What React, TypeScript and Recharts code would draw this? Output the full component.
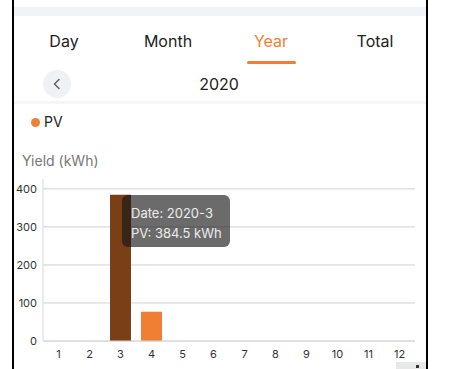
import React from 'react';
import { BarChart, Bar, Cell, XAxis, YAxis, CartesianGrid, Tooltip } from 'recharts';

const months = ['1', '2', '3', '4', '5', '6', '7', '8', '9', '10', '11', '12'];
const pvYield = [0, 0, 384.5, 77, 0, 0, 0, 0, 0, 0, 0, 0];
const yTicks = [0, 100, 200, 300, 400];
const tabs = ['Day', 'Month', 'Year', 'Total'];
const year = '2020';
const activeIndex = 2;

const ORANGE = '#f07f34';
const DARK = '#7b3f17';
const FONT = 'Inter, "Noto Sans", sans-serif';

const data = months.map((m, i) => ({ month: m, pv: pvYield[i] }));

function TipContent({ active, payload }: any) {
  if (!active || !payload?.length) return null;
  const d = payload[0].payload;
  return (
    <div
      style={{
        width: 108,
        height: 52,
        boxSizing: 'border-box',
        padding: '8px 0 0 9px',
        borderRadius: 6,
        background: 'rgba(20,20,20,0.63)',
        color: '#ececec',
        fontSize: 13,
        lineHeight: '20px',
        fontFamily: FONT,
        whiteSpace: 'nowrap',
      }}
    >
      <div>Date: {year}-{d.month}</div>
      <div>PV: {d.pv} kWh</div>
    </div>
  );
}

const tabCenters = [64, 168, 271, 375];

export default function App() {
  return (
    <div
      style={{
        position: 'absolute',
        left: 0,
        top: 0,
        width: 456,
        height: 369,
        overflow: 'hidden',
        background: '#fff',
        fontFamily: FONT,
        color: '#222',
      }}
    >
      {/* frame */}
      <div style={{ position: 'absolute', left: 12, top: 0, width: 2, height: 369, background: '#000' }} />
      <div style={{ position: 'absolute', left: 426, top: 0, width: 2, height: 369, background: '#000' }} />
      <div style={{ position: 'absolute', left: 14, top: 7, width: 412, height: 9, background: '#f2f3f6' }} />

      {tabs.map((t, i) => (
        <div
          key={t}
          style={{
            position: 'absolute',
            left: tabCenters[i] - 40,
            width: 80,
            top: 31,
            textAlign: 'center',
            fontSize: 16,
            lineHeight: '20px',
            color: t === 'Year' ? ORANGE : '#222',
          }}
        >
          {t}
        </div>
      ))}
      <div style={{ position: 'absolute', left: 247, top: 61, width: 49, height: 3, borderRadius: 2, background: ORANGE }} />

      {/* year selector */}
      <div
        style={{
          position: 'absolute',
          left: 43,
          top: 70,
          width: 28,
          height: 28,
          borderRadius: 14,
          background: '#f0f1f4',
        }}
      >
        <svg width={28} height={28}>
          <polyline points="16,9.5 11.5,14 16,18.5" fill="none" stroke="#666" strokeWidth={1.6} strokeLinecap="round" strokeLinejoin="round" />
        </svg>
      </div>
      <div style={{ position: 'absolute', left: 169, width: 100, top: 74, textAlign: 'center', fontSize: 16, lineHeight: '20px' }}>
        {year}
      </div>
      <div style={{ position: 'absolute', left: 14, top: 101, width: 412, height: 3, background: '#f6f6f8' }} />

      {/* legend */}
      <div style={{ position: 'absolute', left: 30.5, top: 117.5, width: 9, height: 9, borderRadius: 5, background: ORANGE }} />
      <div style={{ position: 'absolute', left: 44, top: 113, fontSize: 14, lineHeight: '18px', color: '#222' }}>PV</div>

      <div style={{ position: 'absolute', left: 22, top: 152, fontSize: 14, lineHeight: '18px', color: '#777' }}>
        Yield (kWh)
      </div>

      <div style={{ position: 'absolute', left: 0, top: 170 }}>
        <BarChart
          width={456}
          height={199}
          data={data}
          margin={{ top: 9, right: 41, bottom: 6, left: 0 }}
          style={{ fontFamily: FONT }}
        >
          <CartesianGrid vertical={false} stroke="#d0d0d0" syncWithTicks />
          <XAxis
            dataKey="month"
            height={22}
            tickLine={false}
            tickSize={0}
            tickMargin={9}
            axisLine={{ stroke: '#d8d8d8' }}
            tick={{ fill: '#333', fontSize: 11 }}
            interval={0}
          />
          <YAxis
            width={43}
            domain={[0, 426]}
            ticks={yTicks}
            tickLine={false}
            tickSize={0}
            tickMargin={6}
            axisLine={{ stroke: '#d8d8d8' }}
            tick={{ fill: '#333', fontSize: 11 }}
          />
          <Tooltip
            active
            defaultIndex={activeIndex}
            cursor={false}
            position={{ x: 122, y: 25 }}
            isAnimationActive={false}
            wrapperStyle={{ outline: 'none' }}
            content={<TipContent />}
          />
          <Bar dataKey="pv" barSize={21} isAnimationActive={false}>
            {data.map((d, i) => (
              <Cell key={d.month} fill={i === activeIndex ? DARK : ORANGE} />
            ))}
          </Bar>
        </BarChart>
      </div>

      {/* corner button */}
      <div style={{ position: 'absolute', left: 396, top: 362, width: 30, height: 7, background: '#e8e8e8' }}>
        <div style={{ position: 'absolute', left: 20, top: 3, width: 3, height: 3, background: '#333' }} />
      </div>
    </div>
  );
}
